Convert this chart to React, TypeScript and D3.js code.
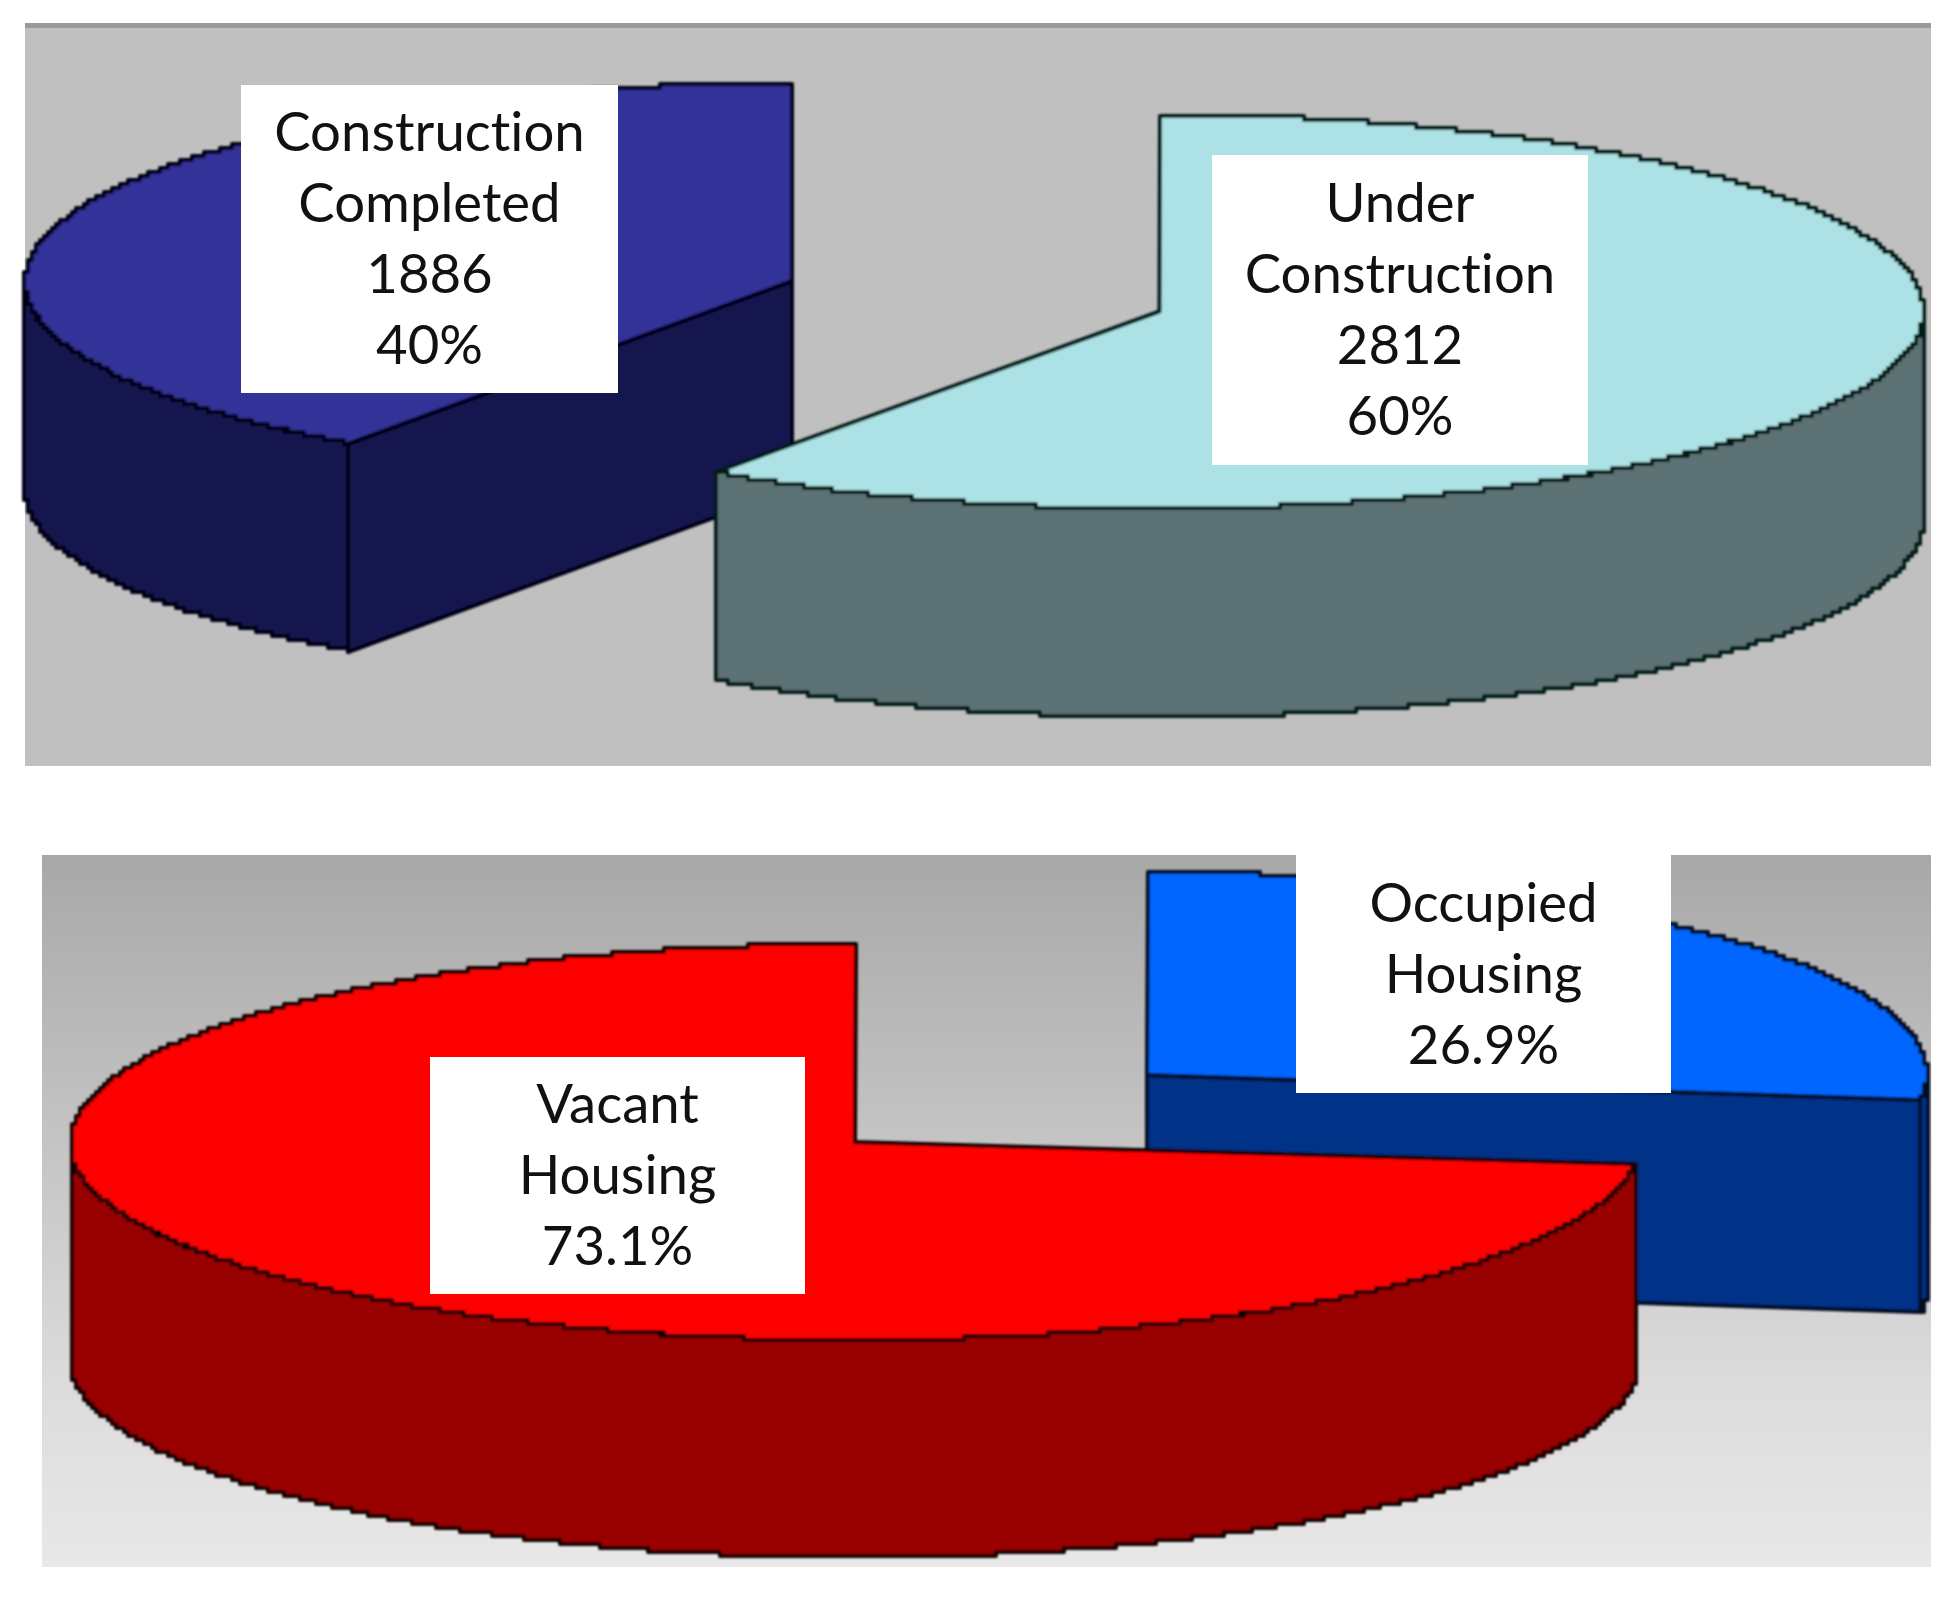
import React from "react";
import * as d3 from "d3";

const WIDTH = 1955;
const HEIGHT = 1603;

// top chart, clockwise from 12 o'clock
const constructionCategories = ["Under Construction", "Construction Completed"];
const constructionValues = [2812, 1886];
const constructionPercents = ["60%", "40%"];

// bottom chart, clockwise from 12 o'clock
const housingCategories = ["Occupied Housing", "Vacant Housing"];
const housingShares = [26.9, 73.1];
const housingPercents = ["26.9%", "73.1%"];

type Slice = {
  cx: number; cy: number; rx: number; ry: number; depth: number;
  top: string; side: string; edge: string;
  box: [number, number, number, number];
};

const constructionLayout: Slice[] = [
  { cx: 1159.5, cy: 311.5, rx: 764, ry: 197, depth: 208, top: "#ace2e6", side: "#5b7274", edge: "#041a18", box: [1212, 155, 376, 310] },
  { cx: 792, cy: 281, rx: 767, ry: 198, depth: 208, top: "#333399", side: "#13134f", edge: "#020214", box: [241, 85, 377, 308] },
];
const housingLayout: Slice[] = [
  { cx: 1147, cy: 1075, rx: 780, ry: 203, depth: 212, top: "#0066ff", side: "#003087", edge: "#000820", box: [1296, 855, 375, 238] },
  { cx: 855, cy: 1142, rx: 785, ry: 198, depth: 217, top: "#ff0000", side: "#990000", edge: "#150000", box: [430, 1057, 375, 237] },
];

const pieGen = d3.pie<number>().sort(null).value((d) => d);
const grid = 4; // the source is a blown up low-res bitmap, keep its stair steps
const snap = (v: number) => Math.round(v / grid) * grid;
const stepLine = d3.line<[number, number]>().curve(d3.curveStepAfter);

function PieSlice({ a0, a1, s }: { a0: number; a1: number; s: Slice }) {
  const x = d3.scaleLinear().domain([-1, 1]).range([s.cx - s.rx, s.cx + s.rx]);
  const y = d3.scaleLinear().domain([-1, 1]).range([s.cy + s.ry, s.cy - s.ry]);
  const at = (a: number, dy = 0): [number, number] => [snap(x(Math.sin(a))), snap(y(Math.cos(a)) + dy)];
  const arcPts = (from: number, to: number, dy = 0) => {
    const n = Math.max(2, Math.ceil(Math.abs(to - from) * 180));
    return d3.range(n + 1).map((i) => at(from + ((to - from) * i) / n, dy));
  };
  const centre = (dy = 0): [number, number] => [x(0), y(0) + dy];
  const stroke = { stroke: s.edge, strokeWidth: 4, strokeLinejoin: "round" as const };
  const walls: React.ReactNode[] = [];

  // cut faces that look toward the viewer
  [a0, a1].forEach((a, i) => {
    const visible = i === 0 ? Math.sin(a) < -1e-6 : Math.sin(a) > 1e-6;
    if (!visible) return;
    walls.push(
      <path key={`cut${i}`} d={`M${centre()}L${at(a)}L${at(a, s.depth)}L${centre(s.depth)}Z`} fill={s.side} {...stroke} />
    );
  });

  // outer wall, only the front half of the ellipse shows
  const from = Math.max(a0, Math.PI / 2);
  const to = Math.min(a1, (3 * Math.PI) / 2);
  if (to > from) {
    const pts = [...arcPts(from, to), ...arcPts(to, from, s.depth)];
    walls.push(<path key="wall" d={stepLine(pts) + "Z"} fill={s.side} {...stroke} />);
  }

  return (
    <g>
      {walls}
      <path d={`M${centre()}L${stepLine(arcPts(a0, a1))!.slice(1)}Z`} fill={s.top} {...stroke} />
    </g>
  );
}

function Label({ lines, box }: { lines: string[]; box: Slice["box"] }) {
  const [bx, by, bw, bh] = box;
  const step = 71;
  const first = by + bh / 2 - ((lines.length - 1) * step) / 2;
  return (
    <g>
      <rect x={bx} y={by} width={bw} height={bh} fill="#ffffff" />
      {lines.map((t, i) => (
        <text key={i} x={bx + bw / 2} y={first + i * step} dy="0.34em" textAnchor="middle" fontFamily="Lato, 'Open Sans', sans-serif" fontSize={54.5} fill="#111111" style={{ fontVariantLigatures: "none" }}>
          {t}
        </text>
      ))}
    </g>
  );
}

function Pie({ values, layout, labels, order }: { values: number[]; layout: Slice[]; labels: string[][]; order: number[] }) {
  const arcs = pieGen(values);
  return (
    <g>
      <g filter="url(#soft)">
        {order.map((i) => (
          <PieSlice key={i} a0={arcs[i].startAngle} a1={arcs[i].endAngle} s={layout[i]} />
        ))}
      </g>
      {labels.map((l, i) => (
        <Label key={i} lines={l} box={layout[i].box} />
      ))}
    </g>
  );
}

export default function App() {
  const constructionLabels = constructionCategories.map((c, i) => [...c.split(" "), String(constructionValues[i]), constructionPercents[i]]);
  const housingLabels = housingCategories.map((c, i) => [...c.split(" "), housingPercents[i]]);
  return (
    <svg width={WIDTH} height={HEIGHT} style={{ position: "absolute", left: 0, top: 0, background: "#fff" }}>
      <defs>
        <linearGradient id="panelGrad" x1="0" y1="0" x2="0" y2="1">
          <stop offset="0" stopColor="#a8a8a8" />
          <stop offset="0.4" stopColor="#c4c4c4" />
          <stop offset="0.75" stopColor="#dcdcdc" />
          <stop offset="1" stopColor="#e8e8e8" />
        </linearGradient>
        <filter id="soft" x="-2%" y="-2%" width="104%" height="104%">
          <feGaussianBlur stdDeviation="1" />
        </filter>
      </defs>
      <rect x={25} y={23} width={1906} height={743} fill="#c0c0c0" />
      <rect x={25} y={23} width={1906} height={5} fill="#9a9a9a" />
      <rect x={42} y={855} width={1889} height={712} fill="url(#panelGrad)" />
      <Pie values={constructionValues} layout={constructionLayout} labels={constructionLabels} order={[1, 0]} />
      <Pie values={housingShares} layout={housingLayout} labels={housingLabels} order={[0, 1]} />
    </svg>
  );
}
